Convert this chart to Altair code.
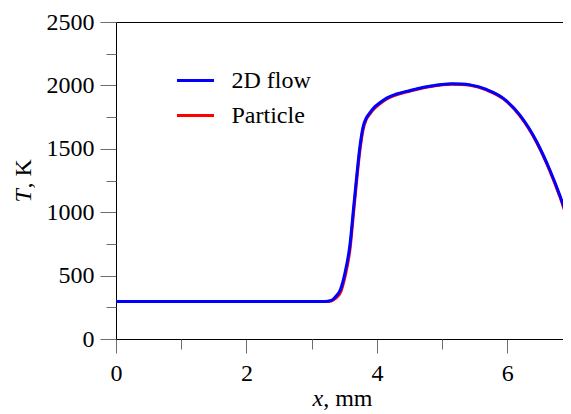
import altair as alt
import pandas as pd

# ---- data ----
x_flow = [0, 1, 2, 3, 3.2, 3.3, 3.36, 3.44, 3.51, 3.59, 3.64, 3.69, 3.74, 3.79, 3.84,
          3.9, 3.95, 4.05, 4.15, 4.3, 4.51, 4.7, 4.87, 5.0, 5.15, 5.3, 5.43, 5.68, 5.94,
          6.19, 6.45, 6.65, 6.81, 6.95]
t_flow = [295, 295, 295, 295, 296, 305, 330, 389, 520, 757, 1020, 1282, 1519, 1677, 1745,
          1790, 1822, 1865, 1900, 1932, 1960, 1983, 1998, 2008, 2013, 2011, 2004, 1968, 1898,
          1767, 1556, 1335, 1125, 912]

x_part = [0, 1, 2, 3, 3.2, 3.3, 3.36, 3.44, 3.51, 3.59, 3.64, 3.69, 3.74, 3.79, 3.84,
          3.9, 3.95, 4.05, 4.15, 4.3, 4.51, 4.7, 4.87, 5.0, 5.15, 5.3, 5.43, 5.68, 5.94,
          6.19, 6.45, 6.65, 6.81, 6.99]
t_part = [295, 295, 295, 295, 295, 300, 318, 365, 490, 720, 985, 1250, 1490, 1655, 1735,
          1780, 1812, 1857, 1893, 1926, 1955, 1979, 1995, 2005, 2010, 2008, 2001, 1964, 1894,
          1762, 1550, 1328, 1115, 835]

series = ["2D flow", "Particle"]
colors = ["#0000ff", "#ff0000"]
x_major = [0, 2, 4, 6]
x_minor = [1, 3, 5]
y_major = [0, 500, 1000, 1500, 2000, 2500]
y_minor = [250, 750, 1250, 1750, 2250]

df_flow = pd.DataFrame({"x": x_flow, "T": t_flow, "s": series[0]})
df_part = pd.DataFrame({"x": x_part, "T": t_part, "s": series[1]})

FONT = "Liberation Serif"
FS = 24
TICK = "#6e6e6e"

xscale = alt.Scale(domain=[0, 6.976], nice=False, zero=False)
yscale = alt.Scale(domain=[0, 2500], nice=False)
cscale = alt.Scale(domain=series, range=colors)
legend = alt.Legend(
    title=None, orient="none", legendX=59.5, legendY=38.5, padding=0,
    symbolType="stroke", symbolSize=1369, symbolStrokeWidth=3,
    labelFont=FONT, labelFontSize=FS, labelColor="black", labelOffset=16,
    rowPadding=3,
)

common_axis = dict(grid=False, labelFont=FONT, labelFontSize=FS, labelColor="black",
                   tickColor=TICK, tickWidth=1, domainColor="black", domainWidth=1,
                   titleFont=FONT, titleFontSize=FS, titleColor="black",
                   titleFontWeight="normal", format="d", labelFlush=False,
                   labelOverlap=False)

x_ax_major = alt.Axis(orient="bottom", values=x_major, tickSize=14, labelPadding=8,
                      title="x", titleFontStyle="italic", titleAlign="left",
                      titleBaseline="alphabetic", titleX=196, titleY=66.5,
                      titleAngle=0, **common_axis)
x_ax_minor = alt.Axis(orient="bottom", values=x_minor, tickSize=10, labels=False,
                      domain=False, title=", mm", titleAlign="left",
                      titleBaseline="alphabetic", titleX=206.7, titleY=66.5,
                      titleAngle=0, **common_axis)
y_ax_major = alt.Axis(orient="left", values=y_major, tickSize=16, labelPadding=6,
                      title="T", titleFontStyle="italic", titleAngle=270,
                      titleAlign="left", titleBaseline="alphabetic",
                      titleX=-86, titleY=180, **common_axis)
y_ax_minor = alt.Axis(orient="left", values=y_minor, tickSize=10, labels=False,
                      domain=False, title=", K", titleAngle=270,
                      titleAlign="left", titleBaseline="alphabetic",
                      titleX=-86, titleY=166, **common_axis)
x_ax_top = alt.Axis(orient="top", ticks=False, labels=False, domain=True,
                    title=None, grid=False, domainColor="black", domainWidth=1)

red = alt.Chart(df_part).mark_line(strokeWidth=3, clip=True, interpolate="monotone").encode(
    x=alt.X("x:Q", scale=xscale, axis=x_ax_major),
    y=alt.Y("T:Q", scale=yscale, axis=y_ax_major),
    color=alt.Color("s:N", scale=cscale, legend=legend),
)
blue = alt.Chart(df_flow).mark_line(strokeWidth=3, clip=True, interpolate="monotone").encode(
    x=alt.X("x:Q", scale=xscale, axis=x_ax_minor),
    y=alt.Y("T:Q", scale=yscale, axis=y_ax_minor),
    color=alt.Color("s:N", scale=cscale, legend=legend),
)
frame = alt.Chart(df_flow).mark_line(opacity=0, clip=True).encode(
    x=alt.X("x:Q", scale=xscale, axis=x_ax_top),
    y=alt.Y("T:Q", scale=yscale, axis=None),
)

chart = alt.layer(red, blue, frame).resolve_axis(
    x="independent", y="independent"
).resolve_scale(x="shared", y="shared", color="shared").properties(
    width=455, height=317,
    autosize=alt.AutoSizeParams(type="none"),
    padding={"left": 108, "top": 14, "right": -8, "bottom": 72},
    background="white",
).configure_view(stroke=None)

chart.save("out.html", embed_options={"renderer": "svg", "actions": False})
